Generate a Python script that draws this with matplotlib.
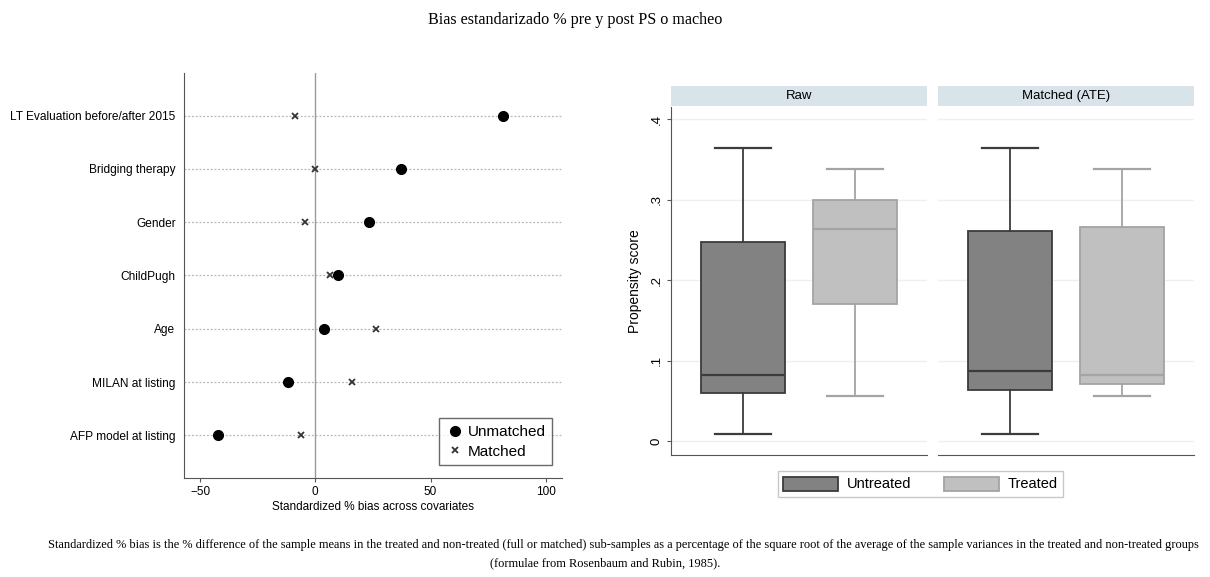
import numpy as np
import matplotlib.pyplot as plt
from matplotlib.patches import Patch

# Datos: sesgo estandarizado (%)
covariates = ['LT Evaluation before/after 2015', 'Bridging therapy', 'Gender',
              'ChildPugh', 'Age', 'MILAN at listing', 'AFP model at listing']
bias_unmatched = [81.5, 37, 23.5, 9.7, 3.8, -12, -42]
bias_matched = [-9, 0, -4.6, 6.2, 26.5, 16, -6]

# Datos: propensity score (whisker_lo, q1, mediana, q3, whisker_hi)
panels = ['Raw', 'Matched (ATE)']
groups = ['Untreated', 'Treated']
ps_stats = {
    'Raw': {'Untreated': [0.009, 0.060, 0.082, 0.247, 0.364],
            'Treated': [0.056, 0.170, 0.264, 0.300, 0.338]},
    'Matched (ATE)': {'Untreated': [0.009, 0.063, 0.087, 0.261, 0.364],
                      'Treated': [0.056, 0.071, 0.082, 0.266, 0.338]},
}
ps_ticks = [0, 0.1, 0.2, 0.3, 0.4]
ps_ticklabels = ['0', '.1', '.2', '.3', '.4']

fill_col = {'Untreated': '#828282', 'Treated': '#c0c0c0'}
edge_col = {'Untreated': '#3c3c3c', 'Treated': '#a4a4a4'}

plt.rcParams['font.family'] = ['Liberation Sans', 'DejaVu Sans']
fig = plt.figure(figsize=(12.1, 5.77), dpi=100)

# ---- Panel izquierdo: dot plot del sesgo ----
ax = fig.add_axes([0.152, 0.1716, 0.3124, 0.7019])
ypos = np.arange(len(covariates), 0, -1)
for y in ypos:
    ax.axhline(y, color='#b5b5b5', lw=0.9, ls=(0, (1.5, 1.5)), zorder=0)
ax.axvline(0, color='#9a9a9a', lw=1.0, zorder=1)
ax.plot(bias_unmatched, ypos, 'o', color='black', ms=7, zorder=3, label='Unmatched')
ax.plot(bias_matched, ypos, 'x', color='#333333', ms=3.8, mew=1.3, zorder=3, label='Matched')
ax.set_xlim(-57, 107)
ax.set_ylim(0.2, 7.8)
ax.set_yticks(ypos)
ax.set_yticklabels(covariates, fontsize=8.6)
ax.tick_params(axis='y', length=0, pad=6)
ax.set_xticks([-50, 0, 50, 100])
ax.tick_params(axis='x', labelsize=8.5, length=3, color='#555555', pad=3)
ax.set_xlabel('Standardized % bias across covariates', fontsize=8.5, labelpad=2)
for s in ['top', 'right']:
    ax.spines[s].set_visible(False)
for s in ['left', 'bottom']:
    ax.spines[s].set_color('#555555')
leg = ax.legend(loc='lower right', bbox_to_anchor=(0.995, 0.012), fontsize=11,
                frameon=True, fancybox=False, edgecolor='#444444', handletextpad=0.3,
                handlelength=1.1, borderpad=0.45, labelspacing=0.35)
leg.get_frame().set_linewidth(1.0)

# ---- Panel derecho: boxplots del propensity score ----
lefts = [0.5545, 0.7752]
for i, pname in enumerate(panels):
    bx = fig.add_axes([lefts[i], 0.2114, 0.2116, 0.6031])
    for k, g in enumerate(groups):
        lo, q1, med, q3, hi = ps_stats[pname][g]
        stats = [{'whislo': lo, 'q1': q1, 'med': med, 'q3': q3, 'whishi': hi, 'fliers': []}]
        bx.bxp(stats, positions=[k + 1], widths=0.75, patch_artist=True, showfliers=False,
               capwidths=[0.5],
               boxprops=dict(facecolor=fill_col[g], edgecolor=edge_col[g], lw=1.3),
               medianprops=dict(color=edge_col[g], lw=1.6),
               whiskerprops=dict(color=edge_col[g], lw=1.3),
               capprops=dict(color=edge_col[g], lw=1.6))
    bx.set_xlim(0.357, 2.643)
    bx.set_ylim(-0.0174, 0.415)
    bx.set_xticks([])
    bx.set_yticks(ps_ticks)
    bx.yaxis.grid(True, color='#eaf0f3', lw=1.0)
    bx.set_axisbelow(True)
    for s in ['top', 'right']:
        bx.spines[s].set_visible(False)
    bx.spines['bottom'].set_color('#555555')
    if i == 0:
        bx.set_yticklabels(ps_ticklabels, rotation=90, va='center', fontsize=9.5)
        bx.tick_params(axis='y', length=3, color='#555555', pad=3)
        bx.spines['left'].set_color('#555555')
        bx.set_ylabel('Propensity score', fontsize=10, labelpad=6)
    else:
        bx.spines['left'].set_visible(False)
        bx.tick_params(axis='y', left=False, labelleft=False)
    # tira del panel
    sx = fig.add_axes([lefts[i], 0.8163, 0.2116, 0.0347])
    sx.set_facecolor('#d9e4ea')
    sx.set_xticks([])
    sx.set_yticks([])
    for s in sx.spines.values():
        s.set_visible(False)
    sx.text(0.5, 0.5, pname, ha='center', va='center', fontsize=9.5, transform=sx.transAxes)

handles = [Patch(facecolor=fill_col[g], edgecolor=edge_col[g], lw=1.3) for g in groups]
fig.legend(handles, groups, loc='center', bbox_to_anchor=(0.7607, 0.1612), ncol=2,
           fontsize=10.5, frameon=True, fancybox=False, edgecolor='#bbbbbb',
           handlelength=3.8, handleheight=1.1, columnspacing=2.2, handletextpad=0.6,
           borderpad=0.35)

# ---- Textos ----
serif = ['Liberation Serif', 'DejaVu Serif']
fig.text(0.475, 0.965, 'Bias estandarizado % pre y post PS o macheo', ha='center', va='center',
         fontsize=11.6, family=serif)
fig.text(0.515, 0.055, 'Standardized % bias is the % difference of the sample means in the treated and '
         'non-treated (full or matched) sub-samples as a percentage of the square root of the average '
         'of the sample variances in the treated and non-treated groups',
         ha='center', va='center', fontsize=8.9, family=serif)
fig.text(0.5, 0.024, '(formulae from Rosenbaum and Rubin, 1985).', ha='center', va='center',
         fontsize=8.9, family=serif)

fig.savefig('out.png', dpi=100)
